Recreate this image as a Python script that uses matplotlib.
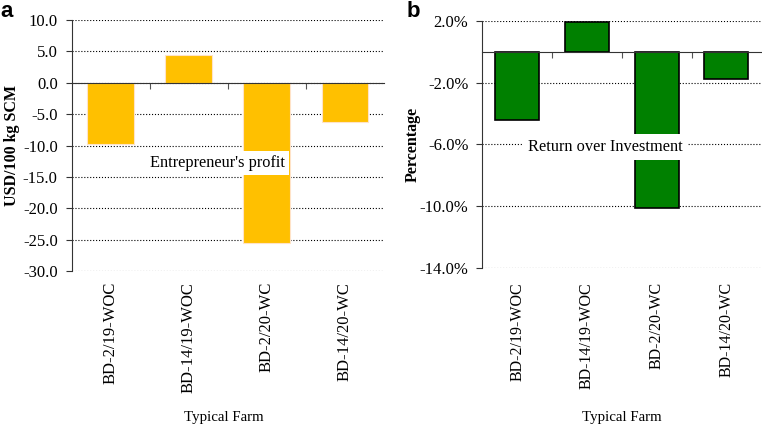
import matplotlib
matplotlib.use('Agg')
import matplotlib.pyplot as plt
import matplotlib.transforms as mtransforms

plt.rcParams['font.family'] = ['Liberation Serif', 'DejaVu Serif']

# data
farms = ['BD-2/19-WOC', 'BD-14/19-WOC', 'BD-2/20-WC', 'BD-14/20-WC']
profit = [-9.7, 4.5, -25.5, -6.3]          # USD/100 kg SCM
roi = [-4.4, 1.9, -10.1, -1.8]             # percent

fig = plt.figure(figsize=(7.62, 4.25), dpi=100)
ax1 = fig.add_axes([0.094, 0.362, 0.410, 0.591])
ax2 = fig.add_axes([0.633, 0.370, 0.366, 0.581])

x = list(range(len(farms)))


def style_axis(ax, yticks, ylim, fmt, lab_size, farm_x):
    ax.set_xlim(-0.5, len(farms) - 0.5)
    ax.set_ylim(*ylim)
    ax.set_yticks(yticks)
    ax.set_yticklabels([fmt(v) for v in yticks], fontsize=12)
    ax.yaxis.grid(True, linestyle=':', color='black', linewidth=0.8)
    ax.set_axisbelow(True)
    for s in ['top', 'right']:
        ax.spines[s].set_visible(False)
    ax.spines['bottom'].set_position(('data', 0))
    ax.spines['left'].set_color('#333333')
    ax.spines['bottom'].set_color('#333333')
    ax.set_xticks([0.5, 1.5, 2.5])
    ax.set_xticklabels([])
    ax.tick_params(axis='x', length=4, direction='out', color='#555555')
    ax.tick_params(axis='y', length=4, color='#333333', pad=6)
    # category labels near the bottom of the figure
    trans = mtransforms.blended_transform_factory(ax.transData, fig.transFigure)
    for i, name in zip(x, farms):
        ax.text(i, 1 - 282 / 425, name, transform=trans, rotation=90,
                ha='center', va='top', fontsize=lab_size)
    fig.text(farm_x, 1 - 417 / 425, 'Typical Farm', ha='center', va='center',
             fontsize=10.7)


# panel a
ax1.bar(x, profit, width=0.6, color='#FFC000', edgecolor='#FFE3C8', linewidth=0.8)
style_axis(ax1, [10, 5, 0, -5, -10, -15, -20, -25, -30], (-30, 10),
           lambda v: f'{v:.1f}', 12, 224 / 762)
ax1.set_ylabel('USD/100 kg SCM', fontsize=11.5, fontweight='bold', labelpad=2)
ax1.text(1.37, -12.8, "Entrepreneur's profit", ha='center', va='center',
         fontsize=11.8, bbox=dict(facecolor='white', edgecolor='none', pad=3))

# panel b
ax2.bar(x, roi, width=0.63, color='#008000', edgecolor='black', linewidth=1.2)
style_axis(ax2, [2, -2, -6, -10, -14], (-14, 2), lambda v: f'{v:.1f}%',
           11.5, 622 / 762)
ax2.set_ylabel('Percentage', fontsize=11.5, fontweight='bold', labelpad=-1)
ax2.text(1.27, -6.2, 'Return over Investment', ha='center', va='center',
         fontsize=11.8, bbox=dict(facecolor='white', edgecolor='none', pad=3.5))

fig.text(0.001, 0.997, 'a', fontsize=16, fontweight='bold', va='top',
         family='Liberation Sans')
fig.text(0.533, 0.997, 'b', fontsize=16, fontweight='bold', va='top',
         family='Liberation Sans')

fig.savefig('out.png', dpi=100)
